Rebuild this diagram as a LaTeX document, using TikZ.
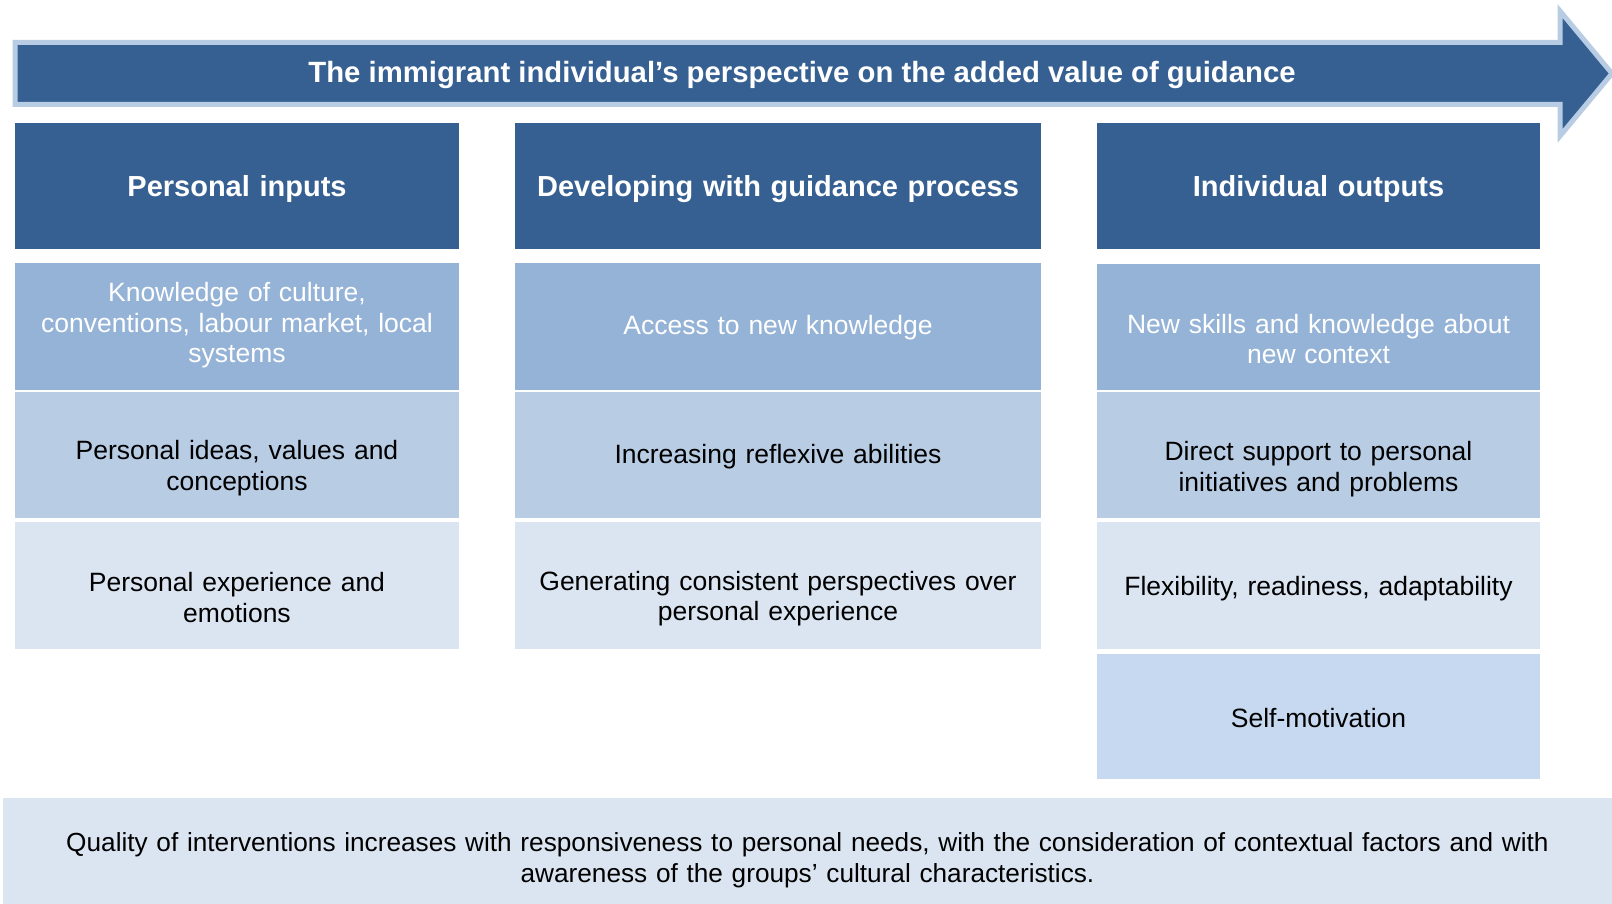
\documentclass[tikz,border=0pt]{standalone}
\usepackage{fontspec}
\setmainfont{Liberation Sans}
\definecolor{hdr}{RGB}{54,96,146}
\definecolor{rowA}{RGB}{149,179,215}
\definecolor{rowB}{RGB}{184,204,228}
\definecolor{rowC}{RGB}{219,229,241}
\definecolor{rowD}{RGB}{198,217,240}
\definecolor{arrowedge}{RGB}{184,204,228}
\tikzset{
  x=1pt, y=1pt,
  cell/.style={rectangle, inner sep=0pt, anchor=center},
  txt/.style={inner sep=0pt, align=center, anchor=center,
    font=\fontsize{26.5}{30.5}\selectfont},
  c1/.style={minimum width=444pt},
  c2/.style={minimum width=526pt},
  c3/.style={minimum width=443pt},
  w1/.style={text width=440pt},
  w2/.style={text width=520pt},
  w3/.style={text width=440pt},
  hdrbox/.style={cell, fill=hdr, minimum height=126pt},
  hdrtxt/.style={txt, text=white, font=\fontsize{29}{34}\selectfont\bfseries},
  rAbox/.style={cell, fill=rowA, minimum height=127pt},
  rBbox/.style={cell, fill=rowB, minimum height=126pt},
  rCbox/.style={cell, fill=rowC, minimum height=127pt},
  rDbox/.style={cell, fill=rowD, minimum height=125pt},
}
\begin{document}
\begin{tikzpicture}
\useasboundingbox (0,0) rectangle (1612,-904);
\fill[white] (0,0) rectangle (1612,-904);
% big arrow
\draw[line width=5pt, draw=arrowedge, fill=hdr, line join=miter]
  (15,-42.5) -- (1560,-42.5) -- (1560,-11) -- (1612,-73.5) -- (1560,-136)
  -- (1560,-104.5) -- (15,-104.5) -- cycle;
\node[txt, font=\fontsize{29.3}{34}\selectfont\bfseries, text=white] (title) at (802,-75)
  {The immigrant individual’s perspective on the added value of guidance};
% column 1
\node[hdrbox, c1] (h1) at (237,-186) {};
\node[hdrtxt, w1] (h1t) at ([yshift=-3]h1.center) {Personal inputs};
\node[rAbox, c1] (a1) at (237,-326.5) {};
\node[txt, w1, text=white] (a1t) at ([yshift=1]a1.center) {Knowledge of culture,\\conventions, labour market, local\\systems};
\node[rBbox, c1] (b1) at (237,-455) {};
\node[txt, w1] (b1t) at ([yshift=-13]b1.center) {Personal ideas, values and\\conceptions};
\node[rCbox, c1] (d1) at (237,-585.5) {};
\node[txt, w1] (d1t) at ([yshift=-12]d1.center) {Personal experience and\\emotions};
% column 2
\node[hdrbox, c2] (h2) at (778,-186) {};
\node[hdrtxt, w2] (h2t) at ([yshift=-3]h2.center) {Developing with guidance process};
\node[rAbox, c2] (a2) at (778,-326.5) {};
\node[txt, w2, text=white] (a2t) at ([yshift=-1]a2.center) {Access to new knowledge};
\node[rBbox, c2] (b2) at (778,-455) {};
\node[txt, w2] (b2t) at ([yshift=-2]b2.center) {Increasing reflexive abilities};
\node[rCbox, c2] (d2) at (778,-585.5) {};
\node[txt, w2] (d2t) at ([yshift=-13]d2.center) {Generating consistent perspectives over\\personal experience};
% column 3
\node[hdrbox, c3] (h3) at (1318.5,-186) {};
\node[hdrtxt, w3] (h3t) at ([yshift=-3]h3.center) {Individual outputs};
\node[rAbox, c3, minimum height=126pt] (a3) at (1318.5,-327) {};
\node[txt, w3, text=white] (a3t) at ([yshift=-12]a3.center) {New skills and knowledge about\\new context};
\node[rBbox, c3] (b3) at (1318.5,-455) {};
\node[txt, w3] (b3t) at ([yshift=-14]b3.center) {Direct support to personal\\initiatives and problems};
\node[rCbox, c3] (d3) at (1318.5,-585.5) {};
\node[txt, w3] (d3t) at ([yshift=-3]d3.center) {Flexibility, readiness, adaptability};
\node[rDbox, c3] (e3) at (1318.5,-716.5) {};
\node[txt, w3] (e3t) at ([yshift=-2]e3.center) {Self-motivation};
% bottom box
\node[cell, fill=rowC, minimum width=1609pt, minimum height=106pt] (bottom) at (807.5,-851) {};
\node[txt, text width=1590pt, font=\fontsize{26.2}{30.5}\selectfont] (bottomt) at ([yshift=-9]bottom.center)
  {Quality of interventions increases with responsiveness to personal needs, with the consideration of contextual factors and with\\awareness of the groups’ cultural characteristics.};
\end{tikzpicture}
\end{document}
